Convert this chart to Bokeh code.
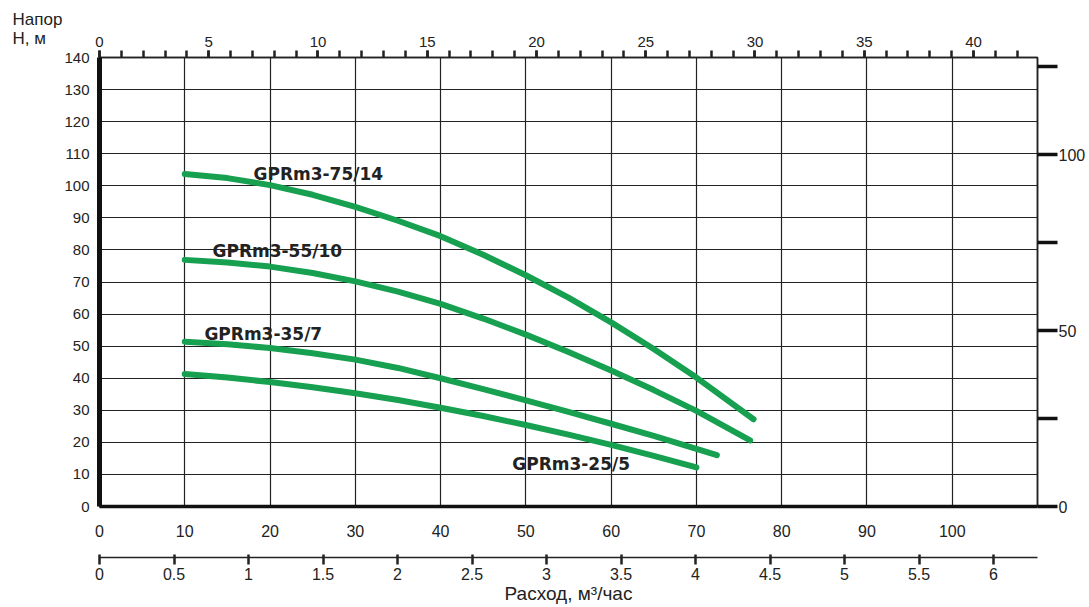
from bokeh.plotting import figure
from bokeh.models import (Range1d, LinearAxis, FixedTicker, SingleIntervalTicker,
                          ColumnDataSource)
from bokeh.embed import file_html
from bokeh.resources import INLINE
from bokeh.core.properties import value

# ---- data (flow on the main scale, head in metres) ----
q_75_14 = [10, 15, 20, 25, 30, 35, 40, 45, 50, 55, 60, 65, 70, 76.7]
h_75_14 = [103.7, 102.4, 100.2, 97.2, 93.4, 89.1, 84.3, 78.5, 72.1, 65.1, 57.4, 49.1, 40.2, 27.2]

q_55_10 = [10, 15, 20, 25, 30, 35, 40, 45, 50, 55, 60, 65, 70, 76.3]
h_55_10 = [76.9, 76.1, 74.8, 72.8, 70.2, 67.0, 63.2, 58.6, 53.6, 48.2, 42.4, 36.3, 29.8, 20.6]

q_35_7 = [10, 15, 20, 25, 30, 35, 40, 45, 50, 55, 60, 65, 70, 72.4]
h_35_7 = [51.4, 50.6, 49.4, 47.8, 45.8, 43.2, 40.0, 36.6, 33.1, 29.5, 25.8, 22.0, 18.0, 16.0]

q_25_5 = [10, 15, 20, 25, 30, 35, 40, 45, 50, 55, 60, 65, 70]
h_25_5 = [41.3, 40.2, 38.8, 37.2, 35.3, 33.2, 30.8, 28.2, 25.4, 22.4, 19.2, 15.8, 12.2]

series_names = ["GPRm3-75/14", "GPRm3-55/10", "GPRm3-35/7", "GPRm3-25/5"]

main_x_ticks = [0, 10, 20, 30, 40, 50, 60, 70, 80, 90, 100]
y_ticks = [0, 10, 20, 30, 40, 50, 60, 70, 80, 90, 100, 110, 120, 130, 140]
m3_ticks = [0, 0.5, 1, 1.5, 2, 2.5, 3, 3.5, 4, 4.5, 5, 5.5, 6]
right_ticks = [0, 25, 50, 75, 100, 125]
right_labelled = [0, 50, 100]

# label positions (layout, not data)
label_x = [18.06, 13.25, 12.3, 48.4]
label_y = [103.8, 79.8, 53.9, 13.4]

GREEN = "#17a050"
INK = "#222222"
FONT = "Liberation Sans"

p = figure(width=1089, height=607, output_backend="svg", toolbar_location=None,
           x_range=Range1d(0, 110), y_range=Range1d(0, 140),
           min_border_left=99, min_border_right=52, min_border_top=57,
           min_border_bottom=101, background_fill_color="white",
           border_fill_color="white")
p.extra_x_ranges = {"top": Range1d(0, 42.93), "m3": Range1d(0, 6.295)}
p.extra_y_ranges = {"right": Range1d(0, 127.6)}

p.outline_line_color = INK
p.outline_line_width = 1.5

# y-axis title at the top-left corner
p.title.text = "Напор\nН, м"
p.title.align = "left"
p.title.offset = -87
p.title.standoff = -29
p.title.text_font = FONT
p.title.text_font_size = "17px"
p.title.text_font_style = "normal"
p.title.text_color = INK

# grid
p.xgrid.ticker = FixedTicker(ticks=main_x_ticks)
p.ygrid.ticker = FixedTicker(ticks=y_ticks)
for g in (p.xgrid, p.ygrid):
    g.grid_line_color = INK
    g.grid_line_width = 1.2

# left axis
ya = p.yaxis[0]
ya.ticker = FixedTicker(ticks=y_ticks)
ya.major_tick_out = 0
ya.major_tick_in = 0
ya.minor_tick_out = 0
ya.minor_tick_in = 0
ya.axis_line_width = 5
ya.axis_line_color = "#111111"
ya.major_label_standoff = 10
ya.major_label_text_font = FONT
ya.major_label_text_font_size = "15px"
ya.major_label_text_color = INK

# bottom main axis
xa = p.xaxis[0]
xa.ticker = FixedTicker(ticks=main_x_ticks)
xa.major_tick_out = 0
xa.major_tick_in = 0
xa.minor_tick_out = 0
xa.minor_tick_in = 0
xa.axis_line_width = 3.5
xa.axis_line_color = "#111111"
xa.major_label_standoff = 18
xa.major_label_text_font = FONT
xa.major_label_text_font_size = "16px"
xa.major_label_text_color = INK
xa.axis_label = " "
xa.axis_label_text_font_size = "10px"
xa.axis_label_standoff = 4

# second bottom axis, m3/h
ma = LinearAxis(x_range_name="m3", ticker=FixedTicker(ticks=m3_ticks))
ma.major_tick_out = 7
ma.major_tick_in = 3
ma.minor_tick_out = 0
ma.minor_tick_in = 0
ma.major_tick_line_width = 2.5
ma.major_tick_line_color = INK
ma.axis_line_width = 1.5
ma.axis_line_color = INK
ma.major_label_standoff = 3
ma.major_label_text_font = FONT
ma.major_label_text_font_size = "16px"
ma.major_label_text_color = INK
ma.axis_label = "Расход, м³/час"
ma.axis_label_text_font = FONT
ma.axis_label_text_font_style = "normal"
ma.axis_label_text_font_size = "19px"
ma.axis_label_text_color = INK
ma.axis_label_standoff = 0
p.add_layout(ma, "below")

# top axis
ta = LinearAxis(x_range_name="top", ticker=SingleIntervalTicker(interval=5, num_minor_ticks=5))
ta.major_tick_out = 7
ta.major_tick_in = 0
ta.minor_tick_out = 7
ta.minor_tick_in = 0
ta.major_tick_line_width = 2.5
ta.minor_tick_line_width = 2.5
ta.major_tick_line_color = INK
ta.minor_tick_line_color = INK
ta.axis_line_width = 1.5
ta.axis_line_color = INK
ta.major_label_standoff = 4
ta.major_label_text_font = FONT
ta.major_label_text_font_size = "15px"
ta.major_label_text_color = INK
p.add_layout(ta, "above")

# right axis
ra = LinearAxis(y_range_name="right", ticker=FixedTicker(ticks=right_ticks))
ra.major_tick_out = 20
ra.major_tick_in = 0
ra.minor_tick_out = 0
ra.minor_tick_in = 0
ra.major_tick_line_width = 3.5
ra.major_tick_line_color = "#111111"
ra.axis_line_width = 1.5
ra.axis_line_color = INK
ra.major_label_standoff = 1
ra.major_label_text_font = FONT
ra.major_label_text_font_size = "16px"
ra.major_label_text_color = INK
ra.major_label_overrides = {t: "" for t in right_ticks if t not in right_labelled}
p.add_layout(ra, "right")

# curves
for qs, hs in ((q_75_14, h_75_14), (q_55_10, h_55_10), (q_35_7, h_35_7), (q_25_5, h_25_5)):
    p.line(qs, hs, line_color=GREEN, line_width=6, line_cap="round", line_join="round")

src = ColumnDataSource(dict(x=label_x, y=label_y, t=series_names))
p.text(x="x", y="y", text="t", source=src, text_font=value("DejaVu Sans"),
       text_font_style="bold", text_font_size="17px", text_color=INK,
       text_align="left", text_baseline="middle")

open("out.html", "w").write(file_html(p, INLINE))
